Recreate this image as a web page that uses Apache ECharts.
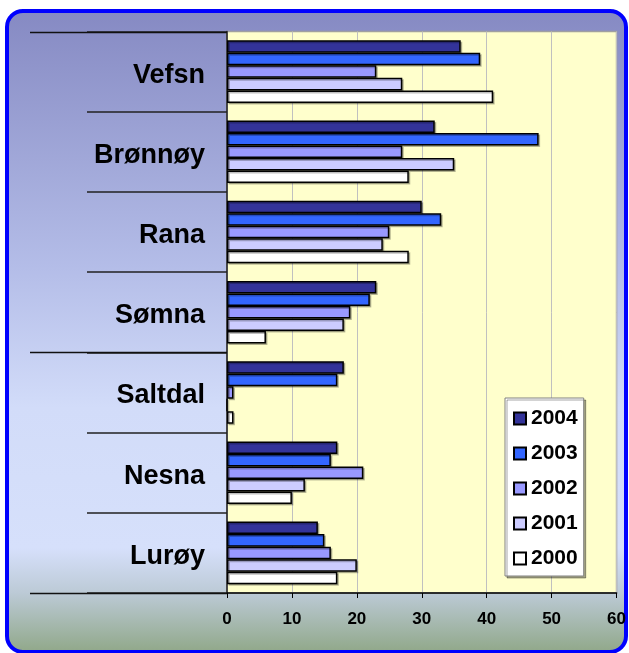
<!DOCTYPE html>
<html>
<head>
<meta charset="utf-8">
<script src="https://cdn.jsdelivr.net/npm/echarts@6/dist/echarts.min.js"></script>
<style>
  html, body { margin: 0; padding: 0; background: #fff; }
  #wrap { position: relative; width: 629px; height: 653px; }
  /* rounded frame with the gradient fill */
  #frame {
    position: absolute; left: 5px; top: 9px; width: 615px; height: 637px;
    border: 4px solid #0000ff; border-radius: 18px;
    background: linear-gradient(to bottom, #868ac3 0%, #b4bde8 40%, #d2dcf9 62%, #d6e0fb 84%, #bccad6 91%, #92a98c 100%);
  }
  #main { position: absolute; left: 0; top: 0; width: 629px; height: 653px; }
</style>
</head>
<body>
<div id="wrap">
  <div id="frame"></div>
  <div id="main"></div>
</div>
<script>
var categories = ['Vefsn', 'Brønnøy', 'Rana', 'Sømna', 'Saltdal', 'Nesna', 'Lurøy']
var years = ['2004', '2003', '2002', '2001', '2000']
var v2004 = [36, 32, 30, 23, 18, 17, 14]
var v2003 = [39, 48, 33, 22, 17, 16, 15]
var v2002 = [23, 27, 25, 19, 1, 21, 16]
var v2001 = [27, 35, 24, 18, 0, 12, 20]
var v2000 = [41, 28, 28, 6, 1, 10, 17]
var xTicks = [0, 10, 20, 30, 40, 50, 60]
var colors = ['#333399', '#3366ff', '#9999ff', '#ccccff', '#ffffff']
var valuesByYear = [v2004, v2003, v2002, v2001, v2000]

var font = 'Liberation Sans, Arial, sans-serif'
var gridLeft = 227, gridTop = 31.5, gridRight = 12, gridBottom = 60
var plotH = 653 - gridTop - gridBottom
var band = plotH / categories.length

// long separator lines on the left (top, between Sømna/Saltdal, bottom)
var longLines = [0, 4, 7].map(function (i) {
  var y = Math.round(gridTop + i * band) + 0.5
  return {
    type: 'line',
    shape: { x1: 30, y1: y, x2: gridLeft, y2: y },
    style: { stroke: '#111', lineWidth: 1.5 },
    z: 10
  }
})

var series = years.map(function (y, i) {
  return {
    name: y,
    type: 'bar',
    data: valuesByYear[i],
    barGap: '0%',
    barCategoryGap: '22%',
    itemStyle: {
      color: colors[i],
      borderColor: '#000',
      borderWidth: 1.5,
      shadowColor: 'rgba(0,0,0,0.25)',
      shadowOffsetX: 1.5,
      shadowOffsetY: 1.5
    }
  }
})

var chart = echarts.init(document.getElementById('main'))
chart.setOption({
  animation: false,
  backgroundColor: 'transparent',
  grid: {
    left: gridLeft, top: gridTop, right: gridRight, bottom: gridBottom,
    show: true,
    backgroundColor: '#ffffcc',
    borderColor: '#a0a0a0',
    borderWidth: 1.5
  },
  legend: {
    orient: 'vertical',
    left: 505,
    top: 398,
    padding: [10, 6, 7, 8],
    itemWidth: 12,
    itemHeight: 12,
    itemGap: 14,
    icon: 'rect',
    backgroundColor: '#fff',
    borderColor: '#808080',
    borderWidth: 1,
    shadowColor: 'rgba(0,0,0,0.35)',
    shadowOffsetX: 2,
    shadowOffsetY: 2,
    data: years,
    textStyle: {
      fontFamily: font, fontWeight: 'bold', fontSize: 21, lineHeight: 21, color: '#000'
    }
  },
  xAxis: {
    type: 'value',
    min: 0,
    max: 60,
    interval: 10,
    axisLine: { show: true, lineStyle: { color: '#000', width: 1.5 } },
    axisTick: { show: true, length: 5, lineStyle: { color: '#000' } },
    splitLine: { show: true, lineStyle: { color: '#c0c0c0', width: 1 } },
    axisLabel: {
      margin: 18,
      color: '#000',
      fontFamily: font,
      fontWeight: 'bold',
      fontSize: 17,
      formatter: function (v) { return xTicks.indexOf(v) >= 0 ? String(v) : '' }
    }
  },
  yAxis: {
    type: 'category',
    data: categories,
    inverse: true,
    axisLine: { show: true, lineStyle: { color: '#222', width: 1.5 } },
    axisTick: { show: true, length: 140, lineStyle: { color: '#222', width: 1.5 } },
    axisLabel: {
      margin: 22,
      color: '#000',
      fontFamily: font,
      fontWeight: 'bold',
      fontSize: 27,
      lineHeight: 33,
      verticalAlign: 'top',
      padding: [-13, 0, 0, 0]
    }
  },
  graphic: longLines,
  series: series
})
</script>
</body>
</html>
